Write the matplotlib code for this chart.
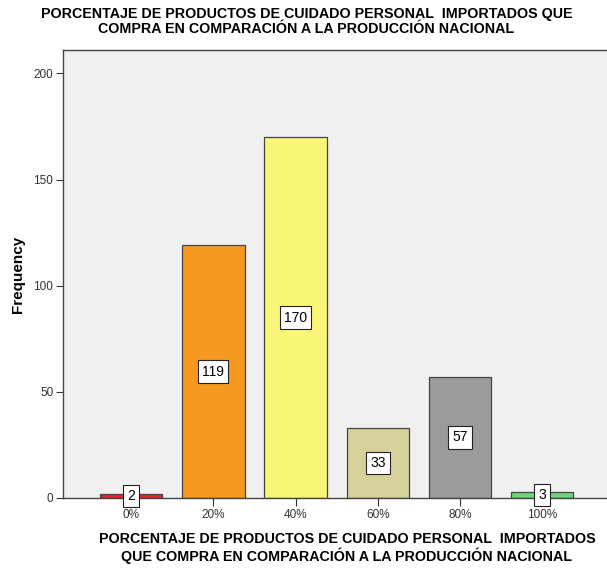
import matplotlib.pyplot as plt

categories = ["0%", "20%", "40%", "60%", "80%", "100%"]
counts = [2, 119, 170, 33, 57, 3]
colors = ["#e8262c", "#f7981f", "#faf776", "#d6d19a", "#9b9b9b", "#6fd57c"]

title = "PORCENTAJE DE PRODUCTOS DE CUIDADO PERSONAL  IMPORTADOS QUE\nCOMPRA EN COMPARACIÓN A LA PRODUCCIÓN NACIONAL"
xlabel = "PORCENTAJE DE PRODUCTOS DE CUIDADO PERSONAL  IMPORTADOS\nQUE COMPRA EN COMPARACIÓN A LA PRODUCCIÓN NACIONAL"

plt.rcParams['font.family'] = ['Liberation Sans', 'DejaVu Sans']

fig = plt.figure(figsize=(6.07, 5.72), dpi=100)
ax = fig.add_axes([0.1038, 0.1294, 0.8962, 0.7832])
ax.set_facecolor("#f0f0f0")

x = list(range(len(categories)))
ax.bar(x, counts, width=0.76, color=colors, edgecolor="#444444", linewidth=0.9, zorder=2)

for xi, c in zip(x, counts):
    ax.text(xi, c / 2, str(c), ha="center", va="center", fontsize=10, zorder=3,
            bbox=dict(boxstyle="square,pad=0.3", fc="white", ec="#222222", lw=0.8))

ax.set_xlim(-0.83, 5.79)
ax.set_ylim(0, 211)
ax.set_yticks([0, 50, 100, 150, 200])
ax.set_xticks(x)
ax.set_xticklabels(categories)
ax.tick_params(axis="both", labelsize=8.5, colors="#333333", length=5, width=0.8, pad=2)
ax.tick_params(axis="x", length=6)

ax.spines["right"].set_visible(False)
for side in ["left", "bottom", "top"]:
    ax.spines[side].set_color("#444444")
    ax.spines[side].set_linewidth(1.0)

ax.set_ylabel("Frequency", fontsize=11, fontweight="bold", labelpad=6)
ax.set_xlabel(xlabel, fontsize=10.3, fontweight="bold", linespacing=1.08, labelpad=8)
ax.xaxis.label.set_x(0.522)
fig.text(0.505, 0.988, title, ha="center", va="top", fontsize=10.3, fontweight="bold", linespacing=1.12)

fig.savefig("out.png", dpi=100)
